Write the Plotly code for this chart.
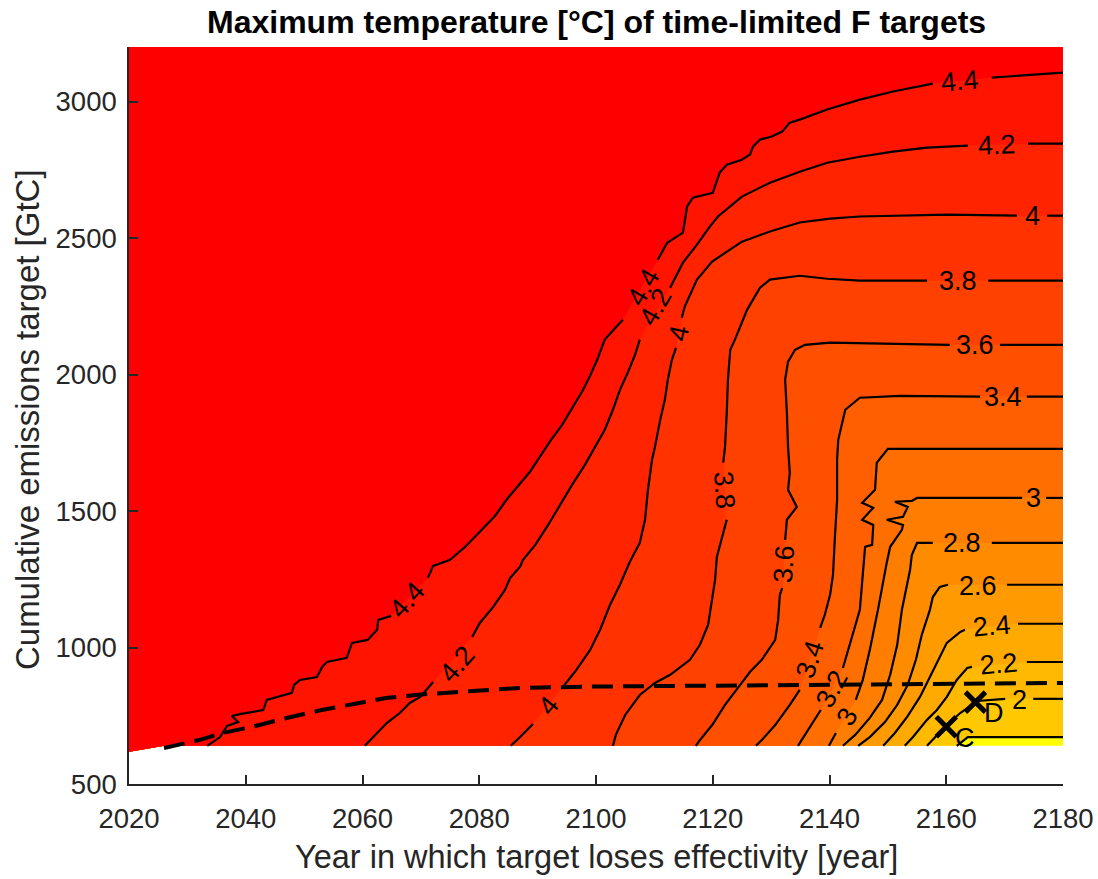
import plotly.graph_objects as go

# ---------------- data ----------------
X_RANGE = [2020, 2180]
Y_RANGE = [500, 3200]
X_TICKS = [2020, 2040, 2060, 2080, 2100, 2120, 2140, 2160, 2180]
Y_TICKS = [500, 1000, 1500, 2000, 2500, 3000]

# lower edge of the computed field (left end dips slightly)
BASE_X = [2020, 2026]
BASE_Y = [618, 640]
FIELD_BOTTOM = 640
FIELD_TOP = 3200

# contour lines (None = gap left for a label)
T44_X = [2033.4, 2035.6, 2036.8, 2038.7, 2037.6, 2039.2, 2043.0, 2043.6, 2047.9, 2048.3, 2049.3, 2052.2, 2053.1, 2053.9,
         2057.3, 2058.2, 2060.9, 2062.5, 2062.7, 2064.9, None, 2071.2, 2072.1, 2075.0, 2077.6, 2080.1, 2082.7, 2084.8,
         2086.6, 2088.7, 2090.4, 2092.1, 2094.2, 2096.1, 2097.8, 2099.0, 2100.2, 2101.5, 2104.6, None, 2110.6, 2112.2,
         2114.9, 2115.6, 2116.6, 2120.0, 2121.2, 2122.4, 2125.0, 2126.4, 2126.9, 2128.1, 2130.1, 2131.9, 2133.2, 2134.9,
         2139.6, 2145.2, 2150.9, 2157.7, None, 2167.8, 2180]
T44_Y = [640, 672, 713, 727, 749, 757, 771, 808, 834, 863, 881, 892, 929, 947,
         962, 1017, 1028, 1065, 1101, 1116, None, 1255, 1299, 1321, 1369, 1424, 1482, 1545,
         1592, 1644, 1699, 1754, 1816, 1882, 1944, 1996, 2054, 2128, 2201, None, 2421, 2483,
         2520, 2615, 2648, 2666, 2740, 2769, 2787, 2806, 2835, 2861, 2872, 2890, 2923, 2934,
         2971, 3007, 3037, 3066, None, 3088, 3106]
T44_LAB = [(2067.6, 1175, -48), (2108.1, 2322, -60), (2162.4, 3075, -5)]

T42_X = [2060.4, 2061.8, 2064.2, 2066.4, 2068.1, 2069.9, 2072.1, None, 2078.8, 2080.1, 2082.4, 2084.4, 2085.3, 2087.0,
         2087.5, 2089.6, 2091.8, 2093.8, 2095.9, 2098.1, 2099.8, 2101.5, 2102.9, 2104.1, 2105.5, 2106.7, 2107.5, None,
         2112.7, 2114.9, 2117.3, 2119.5, 2120.9, 2125.0, 2129.8, 2134.9, 2139.6, 2145.2, 2150.9, 2156.7, 2163.7, None,
         2174.0, 2180]
T42_Y = [640, 672, 724, 760, 797, 819, 874, None, 1039, 1090, 1149, 1211, 1255, 1296,
         1321, 1376, 1449, 1523, 1596, 1669, 1732, 1798, 1871, 1944, 2010, 2073, 2128, None,
         2318, 2410, 2476, 2542, 2579, 2652, 2703, 2743, 2776, 2798, 2817, 2831, 2839, None,
         2846, 2846]
T42_LAB = [(2076.2, 940, -49), (2110.1, 2249, -60), (2168.7, 2842, -2)]

T40_X = [2085.4, 2087.0, 2089.2, None, 2094.2, 2096.4, 2099.0, 2100.7, 2102.4, 2104.1, 2105.8, 2107.5, 2108.4, 2108.9,
         2109.6, 2110.1, 2111.0, 2111.8, 2112.3, 2113.0, 2113.7, None, 2114.7, 2115.2, 2117.3, 2119.9, 2125.0, 2129.8,
         2134.9, 2140.1, 2145.2, 2150.9, 2160.1, 2172.1, None, 2177.3, 2180]
T40_Y = [640, 672, 720, None, 852, 911, 991, 1065, 1156, 1230, 1314, 1383, 1468, 1578,
         1688, 1735, 1834, 1908, 1981, 2054, 2098, None, 2208, 2249, 2348, 2414, 2487, 2524,
         2557, 2571, 2579, 2582, 2586, 2582, None, 2582, 2582]
T40_LAB = [(2091.8, 786, -51), (2114.2, 2153, -78), (2174.7, 2582, 0)]

T38_X = [2102.9, 2103.4, 2105.0, 2107.5, 2110.1, 2112.7, 2116.1, 2117.8, 2119.2, 2119.9, 2120.4, 2120.7, 2121.6, 2122.4,
         None, 2121.8, 2122.1, 2122.4, 2122.6, 2123.0, 2123.8, 2125.9, 2128.1, 2129.8, 2134.9, 2139.6, 2145.2, 2156.7,
         None, 2167.2, 2180]
T38_Y = [640, 680, 753, 826, 870, 900, 955, 1010, 1083, 1175, 1248, 1332, 1405, 1468,
         None, 1677, 1735, 1860, 1981, 2091, 2128, 2238, 2318, 2348, 2362, 2351, 2344, 2344,
         None, 2344, 2344]
T38_LAB = [(2122.0, 1574, 86), (2162.0, 2344, 0)]

T36_X = [2117.1, 2117.8, 2119.9, 2122.1, 2124.7, 2126.4, 2128.4, 2130.7, 2131.2, 2131.5, 2131.9, None, 2132.4, 2132.7,
         2134.4, 2132.9, 2133.2, 2132.9, 2132.7, 2132.4, 2132.9, 2134.1, 2135.8, 2140.1, 2160.6, None, 2169.2, 2180]
T36_Y = [640, 661, 716, 790, 863, 911, 955, 1028, 1101, 1193, 1218, None, 1394, 1468,
         1515, 1578, 1640, 1735, 1860, 1981, 2047, 2091, 2109, 2117, 2109, None, 2109, 2109]
T36_LAB = [(2132.2, 1306, -86), (2164.9, 2109, 0)]

T34_X = [2127.4, 2128.4, 2130.7, 2133.2, 2134.9, None, 2138.4, 2139.2, 2140.1, 2140.6, 2140.9, 2141.3, 2141.3, 2141.5,
         2142.7, 2145.2, 2152.1, 2165.8, None, 2173.8, 2180]
T34_Y = [640, 661, 716, 790, 845, None, 1072, 1120, 1193, 1266, 1394, 1541, 1688, 1761,
         1871, 1915, 1922, 1919, None, 1919, 1919]
T34_LAB = [(2136.7, 958, -72), (2169.8, 1919, 0)]

T32_X = [2134.6, 2135.8, 2137.5, 2138.5, None, 2142.3, 2143.2, 2144.4, 2145.2, 2146.1, 2147.3, 2147.5, 2145.6, 2147.5,
         2145.6, 2147.8, 2148.1, 2150.0, 2180]
T32_Y = [640, 680, 735, 771, None, 925, 991, 1072, 1138, 1369, 1376, 1449, 1468, 1512,
         1530, 1578, 1677, 1728, 1728]
T32_LAB = [(2140.4, 848, -62)]

T30_X = [2139.9, 2141.1, None, 2144.5, 2145.7, 2146.9, 2147.8, 2148.3, 2149.8, 2150.4, 2152.4, 2152.6, 2149.8, 2152.6,
         2153.4, 2151.2, 2154.1, 2155.0, 2173.0, None, 2177.1, 2180]
T30_Y = [640, 687, None, 808, 881, 991, 1083, 1138, 1310, 1369, 1431, 1449, 1468, 1479,
         1515, 1534, 1537, 1548, 1548, None, 1548, 1548]
T30_LAB = [(2143.0, 745, -59), (2175.0, 1548, 0)]

T28_X = [2142.3, 2144.4, 2146.9, 2149.0, 2150.4, 2151.6, 2152.4, 2153.8, 2154.1, 2155.0, 2157.7, None, 2167.8, 2180]
T28_Y = [640, 680, 742, 808, 900, 1010, 1138, 1284, 1339, 1383, 1383, None, 1383, 1383]
T28_LAB = [(2162.7, 1383, 0)]

T26_X = [2144.9, 2146.9, 2149.5, 2151.6, 2153.4, 2154.8, 2155.8, 2157.2, 2157.7, 2158.9, 2160.3, None, 2170.4, 2180]
T26_Y = [640, 672, 727, 790, 863, 955, 1046, 1138, 1185, 1222, 1230, None, 1230, 1230]
T26_LAB = [(2165.4, 1226, 0)]

T24_X = [2149.2, 2151.2, 2153.3, 2155.5, 2157.2, 2158.9, 2160.1, 2162.4, 2163.2, None, 2172.3, 2180]
T24_Y = [640, 687, 746, 819, 892, 966, 1017, 1057, 1065, None, 1087, 1087]
T24_LAB = [(2167.8, 1078, -5)]

T22_X = [2152.9, 2154.3, 2156.7, 2158.4, 2160.1, 2161.8, 2163.6, 2164.4, None, 2173.8, 2180]
T22_Y = [640, 672, 735, 771, 819, 881, 925, 929, None, 947, 947]
T22_LAB = [(2169.0, 938, -5)]

T20_X = [2156.7, 2158.4, 2160.1, 2162.4, 2165.3, 2170.1, None, 2174.9, 2180]
T20_Y = [640, 680, 716, 760, 804, 812, None, 812, 812]
T20_LAB = [(2172.5, 808, 0)]

T18_X = [2161.8, 2162.4, 2163.7, 2180]
T18_Y = [640, 650, 672, 672]
T18_LAB = []

LEVELS = [1.8, 2.0, 2.2, 2.4, 2.6, 2.8, 3.0, 3.2, 3.4, 3.6, 3.8, 4.0, 4.2, 4.4]
LEVEL_X = [T18_X, T20_X, T22_X, T24_X, T26_X, T28_X, T30_X, T32_X, T34_X, T36_X, T38_X, T40_X, T42_X, T44_X]
LEVEL_Y = [T18_Y, T20_Y, T22_Y, T24_Y, T26_Y, T28_Y, T30_Y, T32_Y, T34_Y, T36_Y, T38_Y, T40_Y, T42_Y, T44_Y]
LEVEL_LAB = [T18_LAB, T20_LAB, T22_LAB, T24_LAB, T26_LAB, T28_LAB, T30_LAB, T32_LAB, T34_LAB, T36_LAB, T38_LAB,
             T40_LAB, T42_LAB, T44_LAB]

# dashed curve
DASH_YEAR = [2026, 2032, 2036, 2041, 2047, 2053, 2059, 2064, 2070, 2076, 2087, 2100, 2118, 2140, 2160, 2180]
DASH_GTC = [632, 661, 687, 709, 742, 771, 795, 815, 828, 837, 852, 857, 860, 865, 868, 870]

# marked points
PT_NAMES = ["C", "D"]
PT_YEAR = [2160, 2165]
PT_GTC = [710, 800]

# colour limits of the (reversed autumn) colormap
C_MIN, C_MAX = 1.17, 4.57

TITLE = "Maximum temperature [°C] of time-limited F targets"
X_TITLE = "Year in which target loses effectivity [year]"
Y_TITLE = "Cumulative emissions target [GtC]"

# ---------------- drawing ----------------
FONT = "Liberation Sans, Arial, Helvetica, sans-serif"
AX_COLOR = "#262626"


def autumn_r(t):
    f = (C_MAX - t) / (C_MAX - C_MIN)
    f = min(max(f, 0.0), 1.0)
    return f"rgb(255,{round(255 * f)},0)"


def fmt(v):
    s = f"{v:.1f}"
    return s[:-2] if s.endswith(".0") else s


fig = go.Figure()

# background (values below the lowest level)
fig.add_trace(go.Scatter(
    x=BASE_X + [X_RANGE[1], X_RANGE[1], X_RANGE[0]],
    y=BASE_Y + [FIELD_BOTTOM, FIELD_TOP, FIELD_TOP],
    mode="lines", line=dict(width=0), fill="toself", fillcolor=autumn_r(1.2),
    hoverinfo="skip", showlegend=False))

# filled regions, value >= level
for i, lev in enumerate(LEVELS):
    xs = [v for v in LEVEL_X[i] if v is not None]
    ys = [v for v in LEVEL_Y[i] if v is not None]
    mid = C_MAX if i == len(LEVELS) - 1 else lev + 0.1
    fig.add_trace(go.Scatter(
        x=xs + [X_RANGE[1], X_RANGE[0]] + BASE_X,
        y=ys + [FIELD_TOP, FIELD_TOP] + BASE_Y,
        mode="lines", line=dict(width=0), fill="toself", fillcolor=autumn_r(mid),
        hoverinfo="skip", showlegend=False))

# contour lines
for i, lev in enumerate(LEVELS):
    fig.add_trace(go.Scatter(
        x=LEVEL_X[i], y=LEVEL_Y[i], mode="lines",
        line=dict(color="black", width=2.2), connectgaps=False,
        hoverinfo="skip", showlegend=False))

# dashed curve
fig.add_trace(go.Scatter(
    x=DASH_YEAR, y=DASH_GTC, mode="lines",
    line=dict(color="black", width=4, dash="21px,10px"),
    hoverinfo="skip", showlegend=False))

# points C and D
fig.add_trace(go.Scatter(
    x=PT_YEAR, y=PT_GTC, mode="markers",
    marker=dict(symbol="x-thin", size=20, line=dict(color="black", width=5)),
    hoverinfo="skip", showlegend=False))

annotations = []
for i, lev in enumerate(LEVELS):
    for (lx, ly, ang) in LEVEL_LAB[i]:
        annotations.append(dict(
            x=lx, y=ly, xref="x", yref="y", text=fmt(lev), showarrow=False,
            textangle=ang, font=dict(family=FONT, size=27, color="black"),
            xanchor="center", yanchor="middle"))

for name, px, py in zip(PT_NAMES, PT_YEAR, PT_GTC):
    annotations.append(dict(
        x=px, y=py, xref="x", yref="y", text=name, showarrow=False,
        xshift=19, yshift=-11, font=dict(family=FONT, size=27, color="black"),
        xanchor="center", yanchor="middle"))

annotations.append(dict(
    x=0.5, y=-0.099, xref="paper", yref="paper", text=X_TITLE, showarrow=False,
    font=dict(family=FONT, size=32.5, color=AX_COLOR), xanchor="center", yanchor="middle"))
annotations.append(dict(
    x=-0.108, y=0.494, xref="paper", yref="paper", text=Y_TITLE, showarrow=False,
    textangle=-90, font=dict(family=FONT, size=33, color=AX_COLOR), xanchor="center", yanchor="middle"))
annotations.append(dict(
    x=0.5, y=1.034, xref="paper", yref="paper", text=f"<b>{TITLE}</b>", showarrow=False,
    font=dict(family=FONT, size=32, color="black"), xanchor="center", yanchor="middle"))

axis_common = dict(
    showgrid=False, zeroline=False, showline=True, linecolor=AX_COLOR, linewidth=1.5,
    ticks="inside", ticklen=9, tickwidth=1.5, tickcolor=AX_COLOR, mirror=False,
    automargin=False, tickfont=dict(family=FONT, size=27.5, color=AX_COLOR))

fig.update_layout(
    width=1098, height=879,
    margin=dict(l=129, r=35, t=47, b=95, autoexpand=False),
    paper_bgcolor="white", plot_bgcolor="white",
    showlegend=False,
    xaxis=dict(range=X_RANGE, tickvals=X_TICKS, ticklabelstandoff=9, **axis_common),
    yaxis=dict(range=Y_RANGE, tickvals=Y_TICKS, ticklabelstandoff=5, **axis_common),
    annotations=annotations,
)

fig.write_html("out.html", config={"displayModeBar": False})
